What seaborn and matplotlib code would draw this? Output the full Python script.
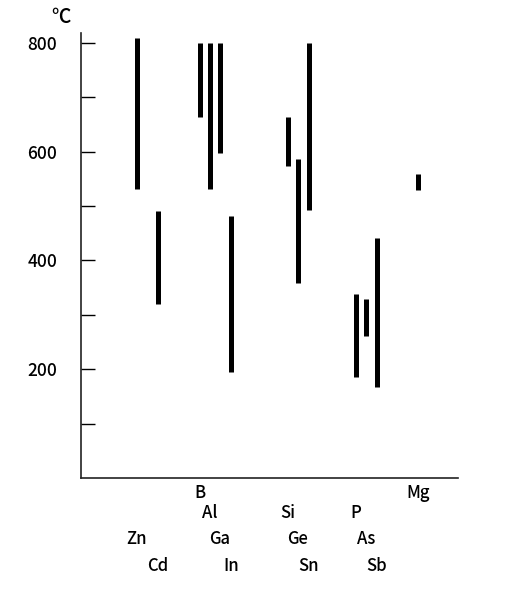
import seaborn as sns
import matplotlib.pyplot as plt
import pandas as pd

# Temperature ranges per element (deg C)
elements = ["Zn", "Cd", "B", "Al", "Ga", "In", "Si", "Ge", "Sn", "P", "As", "Sb", "Mg"]
t_low = [531, 320, 664, 531, 598, 194, 574, 358, 493, 185, 261, 167, 530]
t_high = [809, 491, 800, 800, 800, 482, 664, 587, 800, 339, 329, 442, 559]

# horizontal slot of each bar and label row below the axis
x_pos = [56, 77, 119, 129, 139, 150, 207, 217, 228, 275, 285, 296, 337]
label_row = [3, 4, 1, 2, 3, 4, 2, 3, 4, 2, 3, 4, 1]

y_ticks = [200, 400, 600, 800]

df = pd.DataFrame({
    "element": elements * 2,
    "x": x_pos * 2,
    "temp": t_low + t_high,
})

sns.set_style("ticks")
plt.rcParams["font.family"] = ["Noto Sans CJK JP", "DejaVu Sans"]
plt.rcParams["font.weight"] = "medium"

fig = plt.figure(figsize=(5.05, 6.11), dpi=100)
ax = fig.add_axes([0.1604, 0.2177, 0.7466, 0.7283])

sns.lineplot(data=df, x="x", y="temp", units="element", estimator=None,
             color="black", linewidth=3.6, solid_capstyle="butt",
             legend=False, ax=ax)

ax.set_xlim(0, 377)
ax.set_ylim(0, 818)
ax.set_yticks(y_ticks)
ax.set_yticks([100, 300, 500, 700], minor=True)
ax.tick_params(axis="y", which="both", direction="in", length=10, width=1,
               labelsize=12.5, pad=17, colors="black")
ax.set_xticks([])
ax.set_xlabel("")
ax.set_ylabel("")
for side in ["top", "right"]:
    ax.spines[side].set_visible(False)
for side in ["left", "bottom"]:
    ax.spines[side].set_linewidth(1.2)
    ax.spines[side].set_color("#222222")

row_y = {1: -0.034, 2: -0.078, 3: -0.137, 4: -0.198}
for name, x, r in zip(elements, x_pos, label_row):
    ax.text(x, row_y[r], name, transform=ax.get_xaxis_transform(),
            ha="center", va="center", fontsize=12, color="black")

ax.text(-0.052, 1.035, "℃", transform=ax.transAxes, ha="center",
        va="center", fontsize=14, color="black")

fig.savefig("out.png", dpi=100)
